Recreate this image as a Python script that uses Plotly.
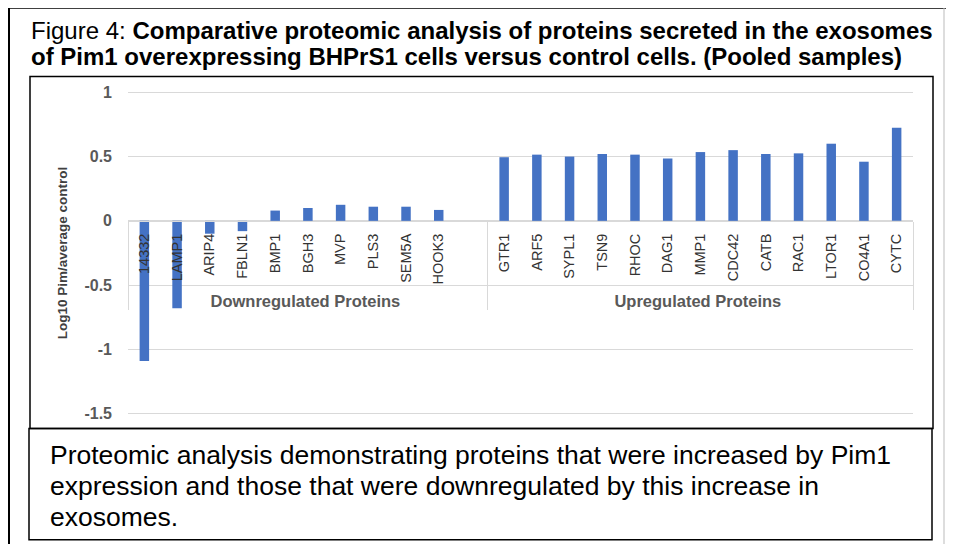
import plotly.graph_objects as go

# ---------------- data ----------------
down_proteins = ["14332", "LAMP1", "ARIP4", "FBLN1", "BMP1", "BGH3", "MVP", "PLS3", "SEM5A", "HOOK3", " "]
down_values = [-1.09, -0.68, -0.10, -0.08, 0.08, 0.10, 0.125, 0.11, 0.11, 0.085, None]
up_proteins = ["GTR1", "ARF5", "SYPL1", "TSN9", "RHOC", "DAG1", "MMP1", "CDC42", "CATB", "RAC1", "LTOR1", "CO4A1", "CYTC"]
up_values = [0.495, 0.515, 0.50, 0.52, 0.515, 0.485, 0.535, 0.55, 0.52, 0.525, 0.60, 0.46, 0.725]
group_names = ["Downregulated Proteins", "Upregulated Proteins"]
y_tick_vals = [-1.5, -1, -0.5, 0, 0.5, 1]
y_tick_text = ["-1.5", "-1", "-0.5", "0", "0.5", "1"]
y_title = "Log10 Pim/average control"
title_plain = "Figure 4: "
title_bold_1 = "Comparative proteomic analysis of proteins secreted in the exosomes"
title_bold_2 = "of Pim1 overexpressing BHPrS1 cells versus control cells. (Pooled samples)"
caption_lines = [
    "Proteomic analysis demonstrating proteins that were increased by Pim1",
    "expression and those that were downregulated by this increase in",
    "exosomes.",
]

# ---------------- layout constants (page pixels; the page body adds an 8px margin) ----------------
OFF = 8
W, H = 954 - OFF, 544 - OFF
PLOT_L, PLOT_R = 128, 913          # page x of plot area
Y_MIN, Y_MAX = -1.51, 1.01
PX_PER_UNIT = 128.25
Y_AT_1 = 92.7                      # page y of value 1
PLOT_T = Y_AT_1 - (Y_MAX - 1.0) * PX_PER_UNIT
PLOT_B = PLOT_T + (Y_MAX - Y_MIN) * PX_PER_UNIT
ML, MR = PLOT_L - OFF, W - (PLOT_R - OFF)
MT, MB = PLOT_T - OFF, H - (PLOT_B - OFF)
PW, PH = W - ML - MR, H - MT - MB

def px(x):
    """page x pixel -> paper coordinate"""
    return (x - OFF - ML) / PW

def py(y):
    """page y pixel -> paper coordinate"""
    return (H - MB - (y - OFF)) / PH

def group_label(name):
    return f"<b><span style='font-size:16.5px;color:#595959'>{name}</span></b>"

groups = [group_label(group_names[0])] * len(down_proteins) + [group_label(group_names[1])] * len(up_proteins)
cats = down_proteins + up_proteins
vals = down_values + up_values

fig = go.Figure()
fig.add_trace(go.Bar(
    x=[groups, cats], y=vals,
    marker=dict(color="#4472C4", line=dict(width=0)),
    hoverinfo="x+y",
))

FONT = "Liberation Sans, Arial, sans-serif"

shapes = [
    # outer frame
    dict(type="line", xref="paper", yref="paper", x0=px(9), x1=px(9), y0=py(8), y1=py(560),
         line=dict(color="#000000", width=2)),
    dict(type="line", xref="paper", yref="paper", x0=px(9), x1=px(952), y0=py(8.5), y1=py(8.5),
         line=dict(color="#000000", width=2)),
    dict(type="line", xref="paper", yref="paper", x0=px(944), x1=px(944), y0=py(8), y1=py(560),
         line=dict(color="#bbbbbb", width=1)),
    # chart box
    dict(type="rect", xref="paper", yref="paper", x0=px(30), x1=px(933), y0=py(77), y1=py(428),
         line=dict(color="#000000", width=1.5), layer="below"),
    # caption box
    dict(type="rect", xref="paper", yref="paper", x0=px(29), x1=px(932), y0=py(428), y1=py(539),
         line=dict(color="#000000", width=1.5)),
]

annotations = [
    dict(xref="paper", yref="paper", x=px(29), y=py(31), xanchor="left", yanchor="middle",
         text=f"{title_plain}<b>{title_bold_1}</b>", showarrow=False,
         font=dict(family=FONT, size=24, color="#000000")),
    dict(xref="paper", yref="paper", x=px(29), y=py(57), xanchor="left", yanchor="middle",
         text=f"<b>{title_bold_2}</b>", showarrow=False,
         font=dict(family=FONT, size=24, color="#000000")),
]
for i, line in enumerate(caption_lines):
    annotations.append(dict(
        xref="paper", yref="paper", x=px(48), y=py(455 + 30.5 * i), xanchor="left", yanchor="middle",
        text=line, showarrow=False, font=dict(family=FONT, size=26.5, color="#000000")))

fig.update_layout(
    width=W, height=H,
    margin=dict(l=ML, r=MR, t=MT, b=MB, autoexpand=False),
    paper_bgcolor="#ffffff", plot_bgcolor="#ffffff",
    showlegend=False,
    bargap=0.71,
    font=dict(family=FONT),
    xaxis=dict(
        type="multicategory",
        anchor="free", position=(0 - Y_MIN) / (Y_MAX - Y_MIN),
        showline=True, linecolor="#d9d9d9", linewidth=1,
        showgrid=False, ticks="",
        tickangle=-90,
        tickfont=dict(family=FONT, size=14.5, color="#333333"),
        showdividers=True, dividercolor="#d9d9d9", dividerwidth=1,
        ticklabelstandoff=6,
    ),
    yaxis=dict(
        range=[Y_MIN, Y_MAX],
        tickvals=y_tick_vals, ticktext=y_tick_text,
        showgrid=True, gridcolor="#d9d9d9", gridwidth=1,
        zeroline=False, showline=False, ticks="",
        tickfont=dict(family=FONT, size=16, color="#595959", weight="bold"),
        ticklabelstandoff=15,
        title=dict(text=f"<b>{y_title}</b>", font=dict(family=FONT, size=13.5, color="#404040"), standoff=13),
    ),
    shapes=shapes,
    annotations=annotations,
)

fig.write_html("out.html")
